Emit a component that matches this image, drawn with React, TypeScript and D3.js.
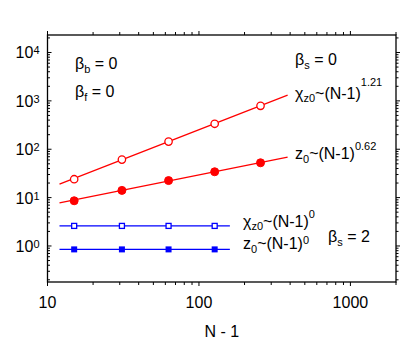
import React from "react";
import * as d3 from "d3";

const nMinus1 = [15, 31, 63, 127, 255];
const chiZ0Beta0 = [24, 61, 144, 336, 790];
const z0Beta0 = [8.6, 14.1, 22.5, 34.2, 52.5];
const nMinus1Beta2 = [15, 31, 63, 127];
const chiZ0Beta2 = [2.6, 2.6, 2.6, 2.6];
const z0Beta2 = [0.85, 0.85, 0.85, 0.85];
const fitXRed = [12, 385];
const chiFitRed = [19, 1315];
const z0FitRed = [7.8, 69];
const fitXBlue = [12, 160];
const chiFitBlue = [2.6, 2.6];
const z0FitBlue = [0.85, 0.85];
const xTickValues = [10, 100, 1000];
const xTickLabels = ["10", "100", "1000"];
const yTickValues = [1, 10, 100, 1000, 10000];
const yTickExps = ["0", "1", "2", "3", "4"];

const RED = "#ff0000";
const BLUE = "#0000ff";
const FONT = "'Liberation Sans', Arial, sans-serif";

export default function App() {
  const left = 47.5, right = 396, top = 35, bottom = 282;
  const x = d3.scaleLog().domain([10, 2000]).range([left, right]);
  const y = d3.scaleLog().domain([0.18, 23000]).range([bottom, top]);
  const line = d3.line<[number, number]>().x((d) => x(d[0])).y((d) => y(d[1]));
  const zip = (a: number[], b: number[]) => a.map((v, i) => [v, b[i]] as [number, number]);

  const xMinor: number[] = [];
  for (const dec of [10, 100, 1000]) for (let m = 2; m <= 9; m++) { const v = m * dec; if (v >= 10 && v <= 2000) xMinor.push(v); }
  const yMinor: number[] = [];
  for (const dec of [0.1, 1, 10, 100, 1000, 10000]) for (let m = 2; m <= 9; m++) { const v = m * dec; if (v >= 0.18 && v <= 23000) yMinor.push(v); }

  const sq = 6;
  return (
    <svg width={415} height={342} style={{ position: "absolute", left: 0, top: 0, background: "#fff" }} fontFamily={FONT}>
      {/* fit lines */}
      <path d={line(zip(fitXRed, chiFitRed))!} stroke={RED} strokeWidth={1.3} fill="none" />
      <path d={line(zip(fitXRed, z0FitRed))!} stroke={RED} strokeWidth={1.3} fill="none" />
      <path d={line(zip(fitXBlue, chiFitBlue))!} stroke={BLUE} strokeWidth={1.3} fill="none" />
      <path d={line(zip(fitXBlue, z0FitBlue))!} stroke={BLUE} strokeWidth={1.3} fill="none" />
      {/* markers */}
      {nMinus1.map((n, i) => (
        <circle key={"c" + i} cx={x(n)} cy={y(chiZ0Beta0[i])} r={3.7} fill="#fff" stroke={RED} strokeWidth={1.3} />
      ))}
      {nMinus1.map((n, i) => (
        <circle key={"z" + i} cx={x(n)} cy={y(z0Beta0[i])} r={4} fill={RED} stroke={RED} strokeWidth={1} />
      ))}
      {nMinus1Beta2.map((n, i) => (
        <rect key={"bc" + i} x={x(n) - sq / 2 + 0.5} y={y(chiZ0Beta2[i]) - sq / 2 + 0.5} width={sq - 1} height={sq - 1} fill="#fff" stroke={BLUE} strokeWidth={1.3} />
      ))}
      {nMinus1Beta2.map((n, i) => (
        <rect key={"bz" + i} x={x(n) - sq / 2} y={y(z0Beta2[i]) - sq / 2} width={sq} height={sq} fill={BLUE} />
      ))}
      {/* frame */}
      <rect x={left} y={top} width={right - left} height={bottom - top} fill="none" stroke="#000" strokeWidth={1.3} />
      {/* x ticks bottom (outward) and top (outward) */}
      {xTickValues.map((v) => (
        <g key={"xt" + v}>
          <line x1={x(v)} x2={x(v)} y1={bottom} y2={bottom + 4} stroke="#000" strokeWidth={1} />
          <line x1={x(v)} x2={x(v)} y1={top} y2={top - 4} stroke="#000" strokeWidth={1} />
        </g>
      ))}
      {xMinor.map((v) => (
        <g key={"xm" + v}>
          <line x1={x(v)} x2={x(v)} y1={bottom} y2={bottom + 3} stroke="#000" strokeWidth={1} />
          <line x1={x(v)} x2={x(v)} y1={top} y2={top - 3} stroke="#000" strokeWidth={1} />
        </g>
      ))}
      {/* y ticks left (inward) and right (outward) */}
      {yTickValues.map((v) => (
        <g key={"yt" + v}>
          <line x1={left} x2={left + 4} y1={y(v)} y2={y(v)} stroke="#000" strokeWidth={1} />
          <line x1={right} x2={right + 4} y1={y(v)} y2={y(v)} stroke="#000" strokeWidth={1} />
        </g>
      ))}
      {yMinor.map((v) => (
        <g key={"ym" + v}>
          <line x1={left} x2={left + 2.5} y1={y(v)} y2={y(v)} stroke="#000" strokeWidth={1} />
          <line x1={right} x2={right + 2.5} y1={y(v)} y2={y(v)} stroke="#000" strokeWidth={1} />
        </g>
      ))}
      {/* tick labels */}
      {xTickValues.map((v, i) => (
        <text key={"xl" + v} x={x(v)} y={308} fontSize={16} textAnchor="middle">{xTickLabels[i]}</text>
      ))}
      {yTickValues.map((v, i) => (
        <text key={"yl" + v} x={39.5} y={y(v) + 6} fontSize={16} textAnchor="end">
          10<tspan fontSize={11} dy={-4}>{yTickExps[i]}</tspan>
        </text>
      ))}
      <text x={(left + right) / 2} y={337} fontSize={16} textAnchor="middle">N - 1</text>
      {/* annotations */}
      <text x={75} y={69} fontSize={16}>β<tspan fontSize={11} dy={4}>b</tspan><tspan dy={-4}> = 0</tspan></text>
      <text x={75} y={97} fontSize={16}>β<tspan fontSize={11} dy={4}>f</tspan><tspan dy={-4}> = 0</tspan></text>
      <text x={295} y={65} fontSize={16}>β<tspan fontSize={11} dy={4}>s</tspan><tspan dy={-4}> = 0</tspan></text>
      <text x={295} y={99} fontSize={16}>χ<tspan fontSize={11} dy={3}>z0</tspan><tspan dy={-3}>~(N-1)</tspan><tspan fontSize={11} dy={-13}>1.21</tspan></text>
      <text x={295} y={159} fontSize={16}>z<tspan fontSize={11} dy={4}>0</tspan><tspan dy={-4}>~(N-1)</tspan><tspan fontSize={11} dy={-9}>0.62</tspan></text>
      <text x={243} y={227} fontSize={16}>χ<tspan fontSize={11} dy={3}>z0</tspan><tspan dy={-3}>~(N-1)</tspan><tspan fontSize={11} dy={-9}>0</tspan></text>
      <text x={243} y={249} fontSize={16}>z<tspan fontSize={11} dy={4}>0</tspan><tspan dy={-4}>~(N-1)</tspan><tspan fontSize={11} dy={-5}>0</tspan></text>
      <text x={328} y={242} fontSize={16}>β<tspan fontSize={11} dy={4}>s</tspan><tspan dy={-4}> = 2</tspan></text>
    </svg>
  );
}
